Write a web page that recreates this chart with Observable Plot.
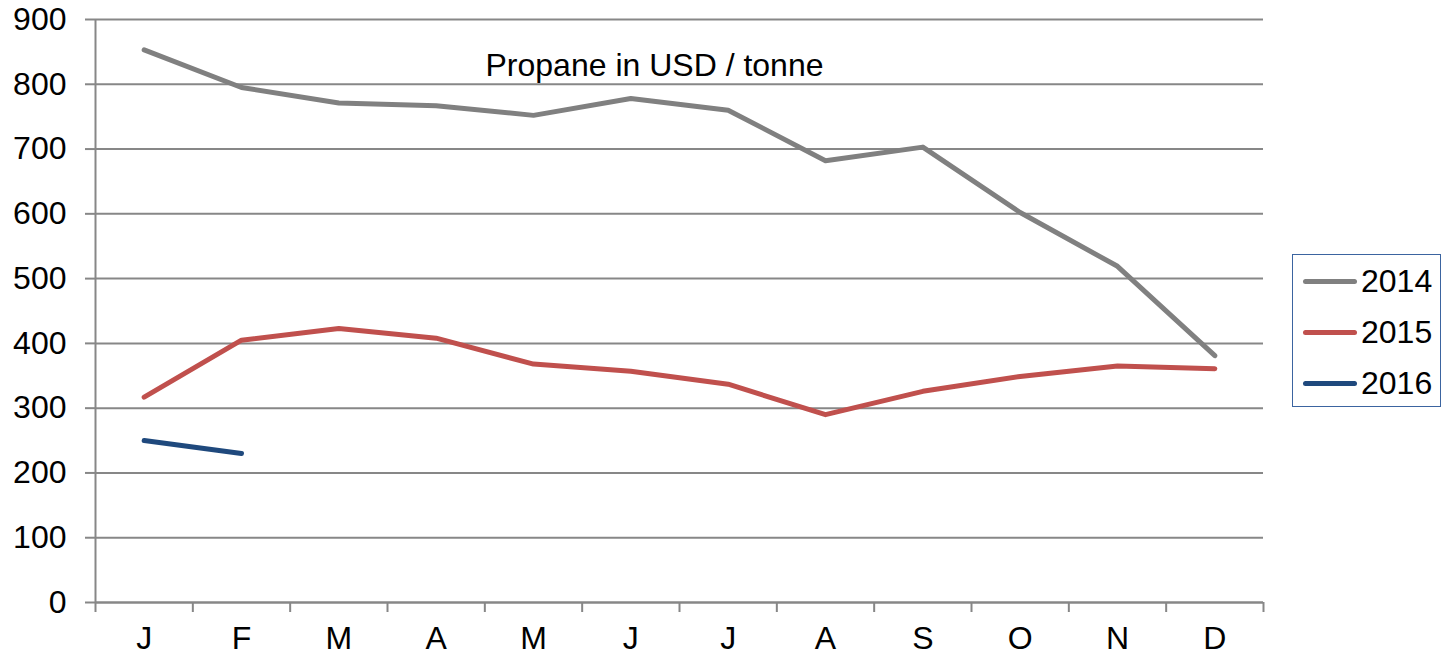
<!DOCTYPE html>
<html>
<head>
<meta charset="utf-8">
<script src="https://cdn.jsdelivr.net/npm/d3@7"></script>
<script src="https://cdn.jsdelivr.net/npm/@observablehq/plot@0.6"></script>
<style>
  html, body { margin: 0; padding: 0; background: #fff; }
  #wrap { position: relative; width: 1443px; height: 655px; font-family: "Liberation Sans", Arial, sans-serif; }
  #legend { position: absolute; left: 1292px; top: 254px; width: 149px; height: 153px; border: 1px solid #3b64a0; box-sizing: border-box; }
  .row { position: absolute; left: 10px; display: flex; align-items: center; font-size: 32px; line-height: 36px; color: #000; }
  .sw { width: 54px; height: 5px; border-radius: 3px; margin-right: 4px; }
</style>
</head>
<body>
<div id="wrap"></div>
<script>
const months = ["J","F","M","A","M","J","J","A","S","O","N","D"];
const years = ["2014","2015","2016"];
const colors = ["#808080","#c0504d","#1f497d"];
const v2014 = [853, 795, 771, 767, 752, 778, 760, 682, 703, 602, 519, 381];
const v2015 = [317, 405, 423, 408, 368, 357, 337, 290, 326, 349, 365, 361];
const v2016 = [250, 230];
const yTicks = [0,100,200,300,400,500,600,700,800,900];
const title = "Propane in USD / tonne";

const series = [v2014, v2015, v2016];
const rows = [];
series.forEach((vals, s) => vals.forEach((v, i) => rows.push({year: years[s], i: i + 0.5, v})));
const bounds = d3.range(0, months.length + 1);
const centers = months.map((m, i) => i + 0.5);

const font = '"Liberation Sans", Arial, sans-serif';
const chart = Plot.plot({
  width: 1443,
  height: 655,
  marginLeft: 95,
  marginRight: 180,
  marginTop: 19,
  marginBottom: 53,
  style: {fontFamily: font, fontSize: "32px", color: "#000", background: "#fff"},
  x: {domain: [0, months.length]},
  y: {domain: [0, 900]},
  color: {domain: years, range: colors},
  marks: [
    Plot.gridY(yTicks, {stroke: "#878787", strokeOpacity: 1, strokeWidth: 2}),
    Plot.axisY(yTicks, {tickSize: 10, tickPadding: 19, stroke: "#878787", strokeWidth: 2, label: null, fill: "#000"}),
    Plot.ruleX([0], {stroke: "#878787", strokeWidth: 2}),
    Plot.axisX(bounds, {tickSize: 10, tickFormat: () => "", stroke: "#878787", strokeWidth: 2, label: null}),
    Plot.axisX(centers, {tickSize: 0, tickPadding: 24, tickFormat: (d) => months[Math.floor(d)], label: null, fill: "#000"}),
    Plot.ruleY([0], {stroke: "#878787", strokeWidth: 2}),
    Plot.line(rows, {x: "i", y: "v", z: "year", stroke: "year", strokeWidth: 5, strokeLinecap: "round", strokeLinejoin: "round"}),
    Plot.text([title], {frameAnchor: "top", lineAnchor: "top", dx: -25, dy: 34, fontSize: 32, fill: "#000"})
  ]
});
const wrap = document.getElementById("wrap");
wrap.appendChild(chart);

const legend = document.createElement("div");
legend.id = "legend";
years.forEach((y, k) => {
  const r = document.createElement("div");
  r.className = "row";
  r.style.top = (8 + k * 51) + "px";
  const sw = document.createElement("div");
  sw.className = "sw";
  sw.style.background = colors[k];
  const t = document.createElement("span");
  t.textContent = y;
  r.appendChild(sw);
  r.appendChild(t);
  legend.appendChild(r);
});
wrap.appendChild(legend);
</script>
</body>
</html>
